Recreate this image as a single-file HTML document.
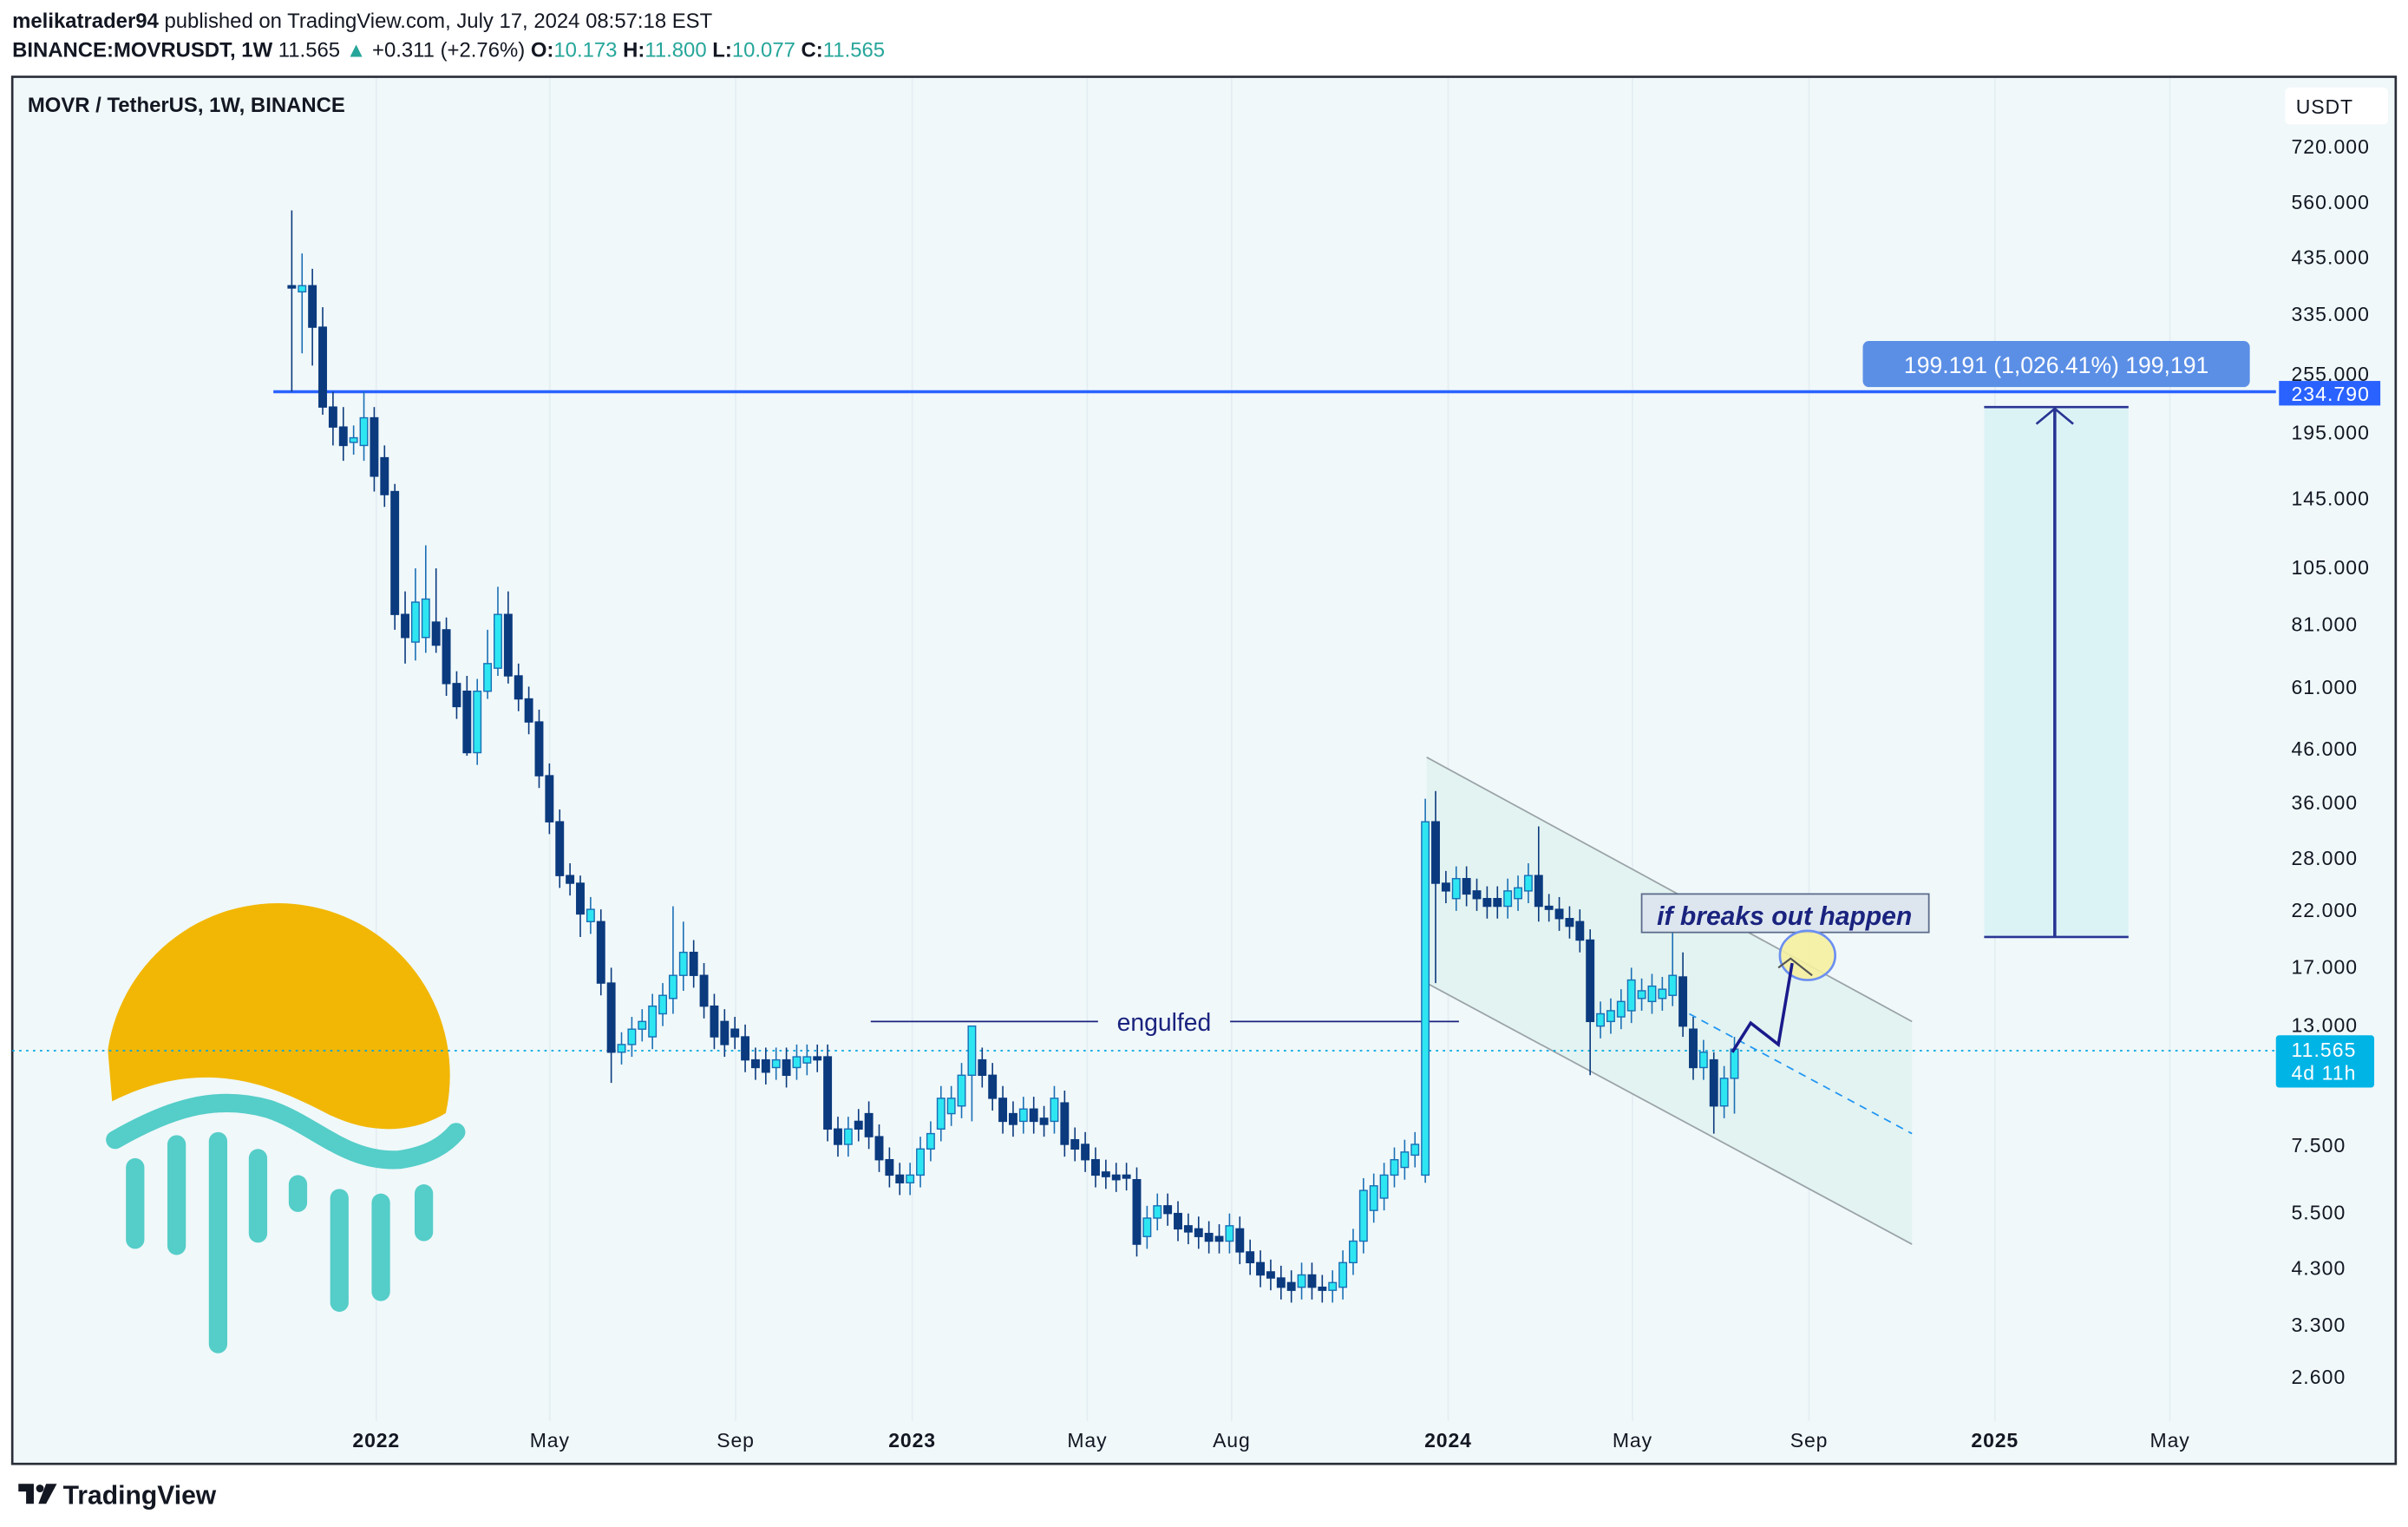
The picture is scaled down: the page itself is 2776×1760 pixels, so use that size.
<!DOCTYPE html>
<html><head><meta charset="utf-8">
<style>
html,body{margin:0;padding:0;background:#fff;}
svg{display:block;}
text{font-family:"Liberation Sans",sans-serif;}
</style></head>
<body>
<svg id="s" width="2776" height="1760" viewBox="0 0 1568 994.1" preserveAspectRatio="none" xmlns="http://www.w3.org/2000/svg">
<rect x="0" y="0" width="1568" height="994.1" fill="#ffffff"/>
<text x="8" y="18" font-size="13.5" fill="#131722"><tspan font-weight="bold">melikatrader94</tspan> published on TradingView.com, July 17, 2024 08:57:18 EST</text>
<text x="8" y="37" font-size="13.5" fill="#131722"><tspan font-weight="bold">BINANCE:MOVRUSDT, 1W</tspan> 11.565 <tspan fill="#26a69a">▲</tspan> +0.311 (+2.76%) <tspan font-weight="bold">O:</tspan><tspan fill="#26a69a">10.173</tspan> <tspan font-weight="bold">H:</tspan><tspan fill="#26a69a">11.800</tspan> <tspan font-weight="bold">L:</tspan><tspan fill="#26a69a">10.077</tspan> <tspan font-weight="bold">C:</tspan><tspan fill="#26a69a">11.565</tspan></text>
<rect x="8" y="50" width="1552" height="903" fill="#f0f8fa" stroke="#2a2e39" stroke-width="1.5"/>
<g stroke="#e4eef2" stroke-width="1">
<line x1="245" y1="51" x2="245" y2="925"/><line x1="358" y1="51" x2="358" y2="925"/><line x1="479" y1="51" x2="479" y2="925"/><line x1="594" y1="51" x2="594" y2="925"/><line x1="708" y1="51" x2="708" y2="925"/><line x1="802" y1="51" x2="802" y2="925"/><line x1="943" y1="51" x2="943" y2="925"/><line x1="1063" y1="51" x2="1063" y2="925"/><line x1="1178" y1="51" x2="1178" y2="925"/><line x1="1299" y1="51" x2="1299" y2="925"/><line x1="1413" y1="51" x2="1413" y2="925"/>
</g>
<text x="18" y="73" font-size="13.5" font-weight="bold" fill="#131722">MOVR / TetherUS, 1W, BINANCE</text>
<!-- logo -->
<g>
<clipPath id="sunclip"><path d="M60,560 L300,560 L300,718 C275,738 245,740 215,726 C180,708 135,686 73,717 Z"/></clipPath>
<circle cx="181" cy="700" r="112" fill="#f2b705" clip-path="url(#sunclip)"/>
<path d="M75,742 C110,722 140,712 175,722 C205,732 225,757 260,755 C280,752 290,745 297,737" fill="none" stroke="#55cdc8" stroke-width="12" stroke-linecap="round"/>
<g stroke="#55cdc8" stroke-width="12" stroke-linecap="round">
<line x1="88" y1="760" x2="88" y2="807"/><line x1="115" y1="745" x2="115" y2="811"/><line x1="142" y1="743" x2="142" y2="875"/><line x1="168" y1="754" x2="168" y2="803"/><line x1="194" y1="771" x2="194" y2="783"/><line x1="221" y1="780" x2="221" y2="848"/><line x1="248" y1="783" x2="248" y2="841"/><line x1="276" y1="777" x2="276" y2="802"/>
</g>
</g>
<!-- engulfed -->
<line x1="567" y1="665" x2="715" y2="665" stroke="#1a237e" stroke-width="1"/>
<line x1="801" y1="665" x2="950" y2="665" stroke="#1a237e" stroke-width="1"/>
<text x="758" y="671" font-size="16" fill="#1a237e" text-anchor="middle">engulfed</text>
<!-- channel -->
<polygon points="929,493 1245,665 1245,810 929,640" fill="#e3f3f1"/>
<line x1="929" y1="493" x2="1245" y2="665" stroke="#9aa3a8" stroke-width="1"/>
<line x1="929" y1="640" x2="1245" y2="810" stroke="#9aa3a8" stroke-width="1"/>
<line x1="1100" y1="660" x2="1245" y2="738" stroke="#2196f3" stroke-width="1" stroke-dasharray="5,4"/>
<line x1="8" y1="684" x2="1482" y2="684" stroke="#00a7e1" stroke-width="1" stroke-dasharray="1.5,3"/>
<!-- blue line -->
<line x1="178" y1="255" x2="1482" y2="255" stroke="#2962ff" stroke-width="2"/>
<g id="candles"></g>
<!-- measure -->
<rect x="1292" y="265" width="94" height="345" fill="#dcf3f6"/>
<line x1="1292" y1="265" x2="1386" y2="265" stroke="#283593" stroke-width="1.5"/>
<line x1="1292" y1="610" x2="1386" y2="610" stroke="#283593" stroke-width="1.5"/>
<line x1="1338" y1="610" x2="1338" y2="267" stroke="#283593" stroke-width="2"/>
<polyline points="1326,276 1338,266 1350,276" fill="none" stroke="#283593" stroke-width="1.5"/>
<rect x="1213" y="222" width="252" height="30" rx="4" fill="#5b8fe6"/>
<text x="1339" y="243" font-size="15" fill="#fff" text-anchor="middle">199.191 (1,026.41%) 199,191</text>
<!-- breakout annotation -->
<rect x="1069" y="582" width="187" height="25" fill="#dde6ef" stroke="#5a6b8a" stroke-width="1"/>
<text x="1162" y="602" font-size="17" font-weight="bold" font-style="italic" fill="#1a237e" text-anchor="middle">if breaks out happen</text>
<ellipse cx="1177" cy="622" rx="18" ry="16" fill="#f5f0a0" fill-opacity="0.9" stroke="#6b8ff0" stroke-width="1.5"/>
<polyline points="1128,685 1140,666 1158,680 1167,627" fill="none" stroke="#1a1a8c" stroke-width="2"/>
<polyline points="1158,630 1166,624 1180,635" fill="none" stroke="#555" stroke-width="1.2"/>
<!-- axis -->
<rect x="1488" y="57" width="67" height="24" rx="3" fill="#fff"/>
<text x="1495" y="74" font-size="13" fill="#131722" letter-spacing="0.5">USDT</text>
<g font-size="13" fill="#131722" letter-spacing="0.6">
<text x="1492" y="100">720.000</text><text x="1492" y="136">560.000</text><text x="1492" y="172">435.000</text><text x="1492" y="209">335.000</text><text x="1492" y="248">255.000</text><text x="1492" y="286">195.000</text><text x="1492" y="329">145.000</text><text x="1492" y="374">105.000</text><text x="1492" y="411">81.000</text><text x="1492" y="452">61.000</text><text x="1492" y="492">46.000</text><text x="1492" y="527">36.000</text><text x="1492" y="563">28.000</text><text x="1492" y="597">22.000</text><text x="1492" y="634">17.000</text><text x="1492" y="672">13.000</text><text x="1492" y="750">7.500</text><text x="1492" y="794">5.500</text><text x="1492" y="830">4.300</text><text x="1492" y="867">3.300</text><text x="1492" y="901">2.600</text>
</g>
<rect x="1484" y="248" width="66" height="16" fill="#2962ff"/>
<text x="1492" y="261" font-size="13" fill="#fff" letter-spacing="0.6">234.790</text>
<rect x="1482" y="674" width="64" height="34" rx="2" fill="#00b4e6"/>
<text x="1492" y="688" font-size="13" fill="#fff" letter-spacing="0.6">11.565</text>
<text x="1492" y="703" font-size="13" fill="#fff" letter-spacing="0.6">4d 11h</text>
<g font-size="13" fill="#131722" text-anchor="middle" letter-spacing="0.5">
<text x="245" y="942" font-weight="bold">2022</text><text x="358" y="942">May</text><text x="479" y="942">Sep</text><text x="594" y="942" font-weight="bold">2023</text><text x="708" y="942">May</text><text x="802" y="942">Aug</text><text x="943" y="942" font-weight="bold">2024</text><text x="1063" y="942">May</text><text x="1178" y="942">Sep</text><text x="1299" y="942" font-weight="bold">2025</text><text x="1413" y="942">May</text>
</g>
<!-- footer -->
<path d="M12,966 h10 v13 h-5 v-8 h-5z" fill="#131722"/><circle cx="26" cy="969" r="2.5" fill="#131722"/><path d="M30,966 h7 l-7,13 h-5z" fill="#131722"/>
<text x="41" y="979" font-size="17" font-weight="bold" fill="#131722">TradingView</text>
</svg>
<script>
var d=[[186,186,137,255],[190,186,165,230],[186,213,175,238],[213,265,200,270],[265,278,255,290],[278,290,265,300],[288,285],[290,272,255,300],[272,310,265,320],[298,322],[320,400,315,410],[400,415,385,432],[418,392,370,430],[415,390,355,425],[405,420,370,425],[410,445],[445,460],[450,490,440,492],[490,450],[450,432,410,455],[435,400,382,440],[400,440,385,445],[440,455],[455,470],[470,505],[505,535],[535,570],[570,575],[575,595,570,610],[600,592],[600,640],[640,685,630,705],[685,680],[680,670],[670,665],[675,655],[660,648],[650,635,590,660],[635,620,600,645],[620,635],[635,655],[655,675],[665,680],[670,675],[675,690],[690,695],[690,698],[695,690],[690,700],[695,688],[692,688],[688,690],[688,735],[735,745],[745,735],[730,735],[725,740],[740,755],[755,765],[765,770],[770,765],[765,748],[748,738],[735,715],[725,715],[720,700],[700,668,682,730],[690,700],[700,715],[715,730],[725,732],[730,722],[722,730],[728,732],[730,715],[718,745],[742,748],[745,755],[755,765],[763,766],[765,768],[765,767],[768,810],[805,793],[793,785],[785,790],[790,800],[798,802],[800,805],[803,808],[805,808],[808,798],[800,815],[815,822],[822,830],[828,832],[832,838],[835,840],[838,830],[830,838],[838,840],[840,835],[838,822],[822,808],[808,775],[788,772],[780,765],[765,755],[760,750],[752,745],[765,535,520,770],[535,575,515,640],[575,580],[585,572],[572,582],[580,585],[585,590],[585,590],[590,580],[585,578],[580,570],[570,590,538,600],[590,592],[592,598],[598,603],[600,612],[612,665,605,700],[668,660],[665,658],[662,652],[658,638],[650,645],[652,642],[650,644],[648,635,605,655],[636,668,620,675],[670,695],[695,685],[690,720,685,738],[720,702],[702,683,675,725]];
var g=document.getElementById('candles'),h='';
for(var i=0;i<d.length;i++){var c=d[i],x=190+6.71*i,o=c[0],cl=c[1],t=Math.min(o,cl),b=Math.max(o,cl);
var hi=c.length>2?Math.min(c[2],t):t-8,lo=c.length>3?Math.max(c[3],b):b+8;var up=cl<o;
var col=up?'#1a6fb5':'#0b3a7e';
h+='<line x1="'+x+'" y1="'+hi+'" x2="'+x+'" y2="'+lo+'" stroke="'+col+'" stroke-width="0.9"/>';
h+='<rect x="'+(x-2.4)+'" y="'+t+'" width="4.8" height="'+Math.max(b-t,1.5)+'" fill="'+(up?'#2ee6f2':'#0b3a7e')+'" stroke="'+col+'" stroke-width="0.8"/>';}
g.innerHTML=h;
</script>
</body></html>
